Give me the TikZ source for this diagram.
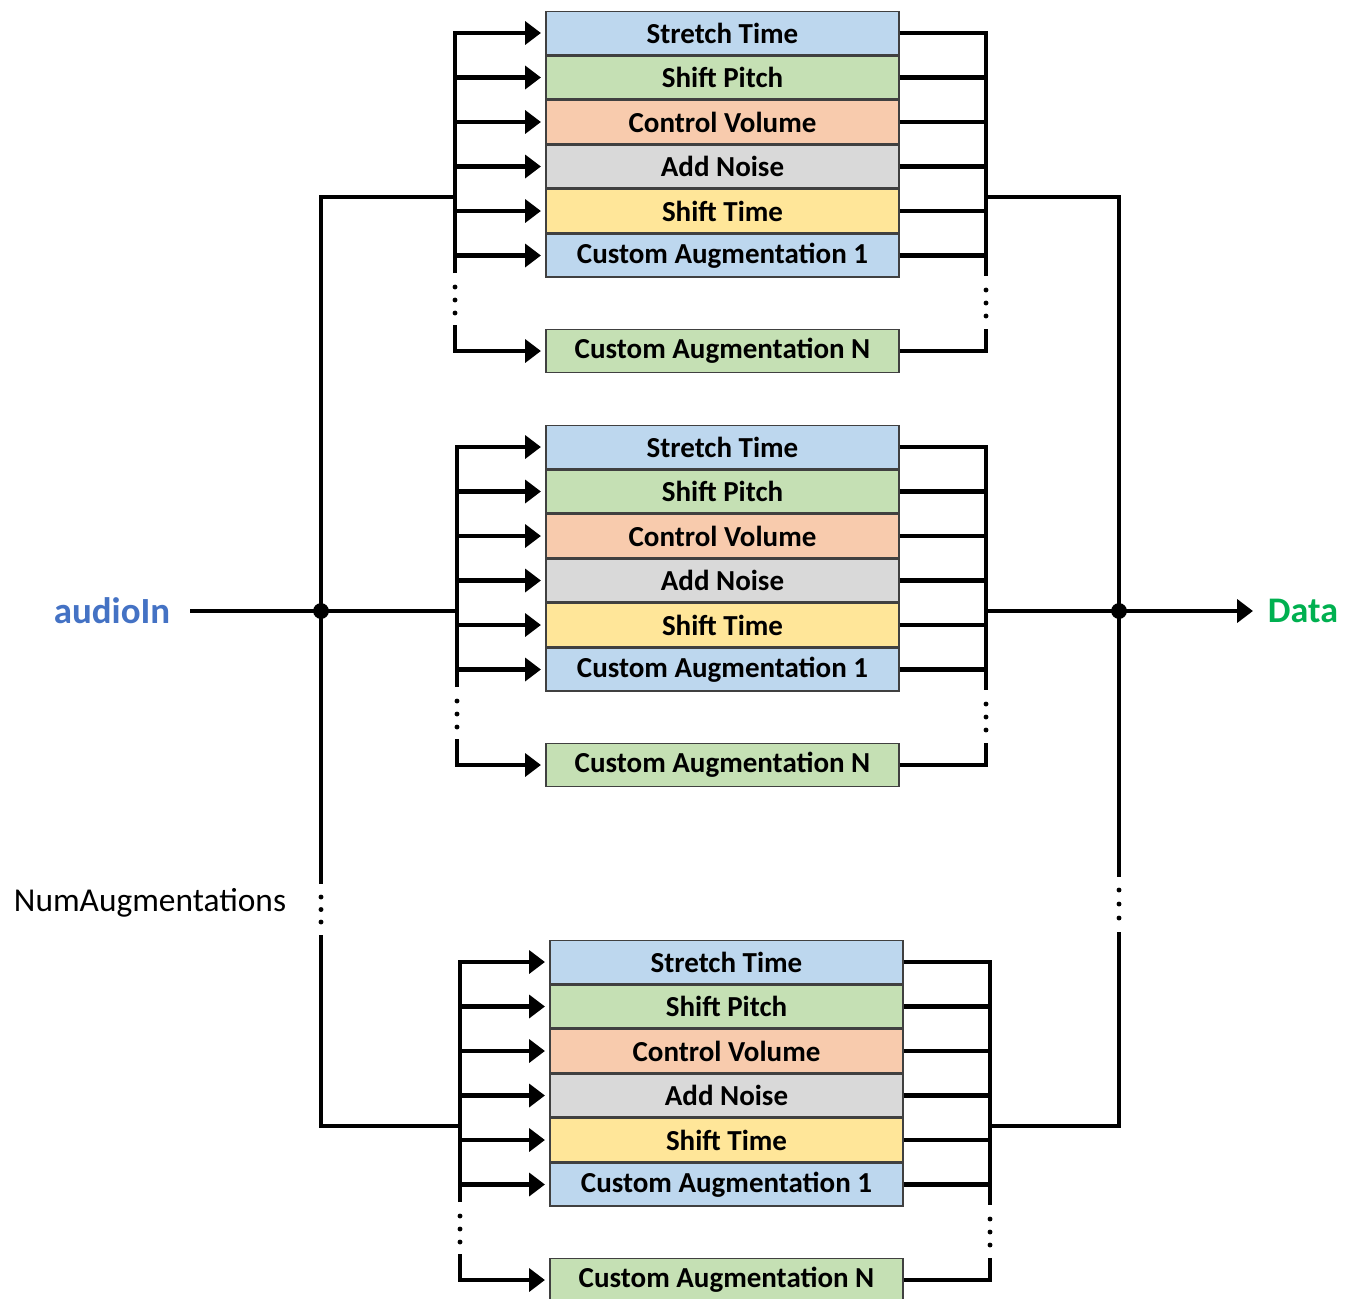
\documentclass[tikz,border=0pt]{standalone}
\usepackage{fontspec}
\setmainfont{Carlito}
\definecolor{augblue}{RGB}{189,215,238}
\definecolor{auggreen}{RGB}{197,224,180}
\definecolor{augorange}{RGB}{248,203,173}
\definecolor{auggray}{RGB}{217,217,217}
\definecolor{augyellow}{RGB}{255,230,153}
\definecolor{inblue}{RGB}{68,114,196}
\definecolor{outgreen}{RGB}{0,176,80}
\usetikzlibrary{arrows.meta,positioning}

\begin{document}
\begin{tikzpicture}[x=0.02cm,y=-0.02cm,
  aug/.style={draw=black!75,line width=0.8pt,minimum width=7.06cm,minimum height=0.86cm,inner sep=0pt,font=\fontsize{16.5}{19}\selectfont\bfseries},
  bus/.style={line width=2.8pt},
  feed/.style={bus,-{Triangle[length=9pt,width=13pt]},shorten >=2.5pt}]
  \useasboundingbox (0,0) rectangle (1352,1298);
  % three augmenter blocks
  \foreach \b/\x/\y/\l/\r in {1/722.5/33/455/986,2/722.5/447/457/986,3/726.5/962/460/990}{
    \foreach \n/\d/\c/\t in {1/0/augblue/Stretch Time,2/44.5/auggreen/Shift Pitch,3/89/augorange/Control Volume,4/133.5/auggray/Add Noise,5/178/augyellow/Shift Time,6/222.5/augblue/Custom Augmentation 1,7/318/auggreen/Custom Augmentation N}{
      \node[aug,fill=\c] (b\b r\n) at (\x,\y+\d) {\t};
      \coordinate (b\b L\n) at (\l,\y+\d);
      \coordinate (b\b R\n) at (\r,\y+\d);
    }
    \coordinate (b\b in) at (\l,\y+164);
    \coordinate (b\b out) at (\r,\y+164);
    \draw[feed] (b\b L1) ++(0,240) -- (b\b L1) -- (b\b r1);
    \draw[feed] (b\b L7) ++(0,-26) -- (b\b L7) -- (b\b r7);
    \draw[bus] (b\b r1) -- (b\b R1) -- ++(0,243);
    \draw[bus] (b\b r7) -- (b\b R7) -- ++(0,-22);
    \foreach \n in {2,...,6}{
      \draw[feed] (b\b L\n) -- (b\b r\n);
      \draw[bus] (b\b r\n) -- (b\b R\n);
    }
    \foreach \k in {0,1,2}{
      \fill (\l,\y+254+13*\k) circle[radius=1.4pt];
      \fill (\r,\y+257+13*\k) circle[radius=1.4pt];
    }
  }
  % input and output
  \node[font=\fontsize{21}{24}\selectfont\bfseries,text=inblue] (audio) at (112,611) {audioIn};
  \node[font=\fontsize{20.5}{24}\selectfont\bfseries,text=outgreen] (data) at (1303,611) {Data};
  \node[font=\fontsize{19}{22}\selectfont] (numaug) at (150,903) {NumAugmentations};
  \coordinate (split) at (321,611);
  \coordinate (merge) at (1119,611);
  \coordinate (lgapA) at (321,884);
  \coordinate (lgapB) at (321,935);
  \coordinate (rgapA) at (1119,877);
  \coordinate (rgapB) at (1119,932);
  \draw[bus,shorten <=8pt] (audio) -- (split) -- (b2in);
  \draw[bus] (b1in) -| (lgapA);
  \draw[bus] (lgapB) |- (b3in);
  \draw[bus] (b1out) -| (rgapA);
  \draw[bus] (rgapB) |- (b3out);
  \draw[bus] (b2out) -- (merge);
  \draw[feed,shorten >=5pt] (merge) -- (data);
  \fill (split) circle[radius=4.5pt];
  \fill (merge) circle[radius=4.5pt];
  \foreach \k in {0,1,2}{
    \fill (321,897+12.5*\k) circle[radius=1.4pt];
    \fill (1119,890+14*\k) circle[radius=1.4pt];
  }
\end{tikzpicture}
\end{document}
